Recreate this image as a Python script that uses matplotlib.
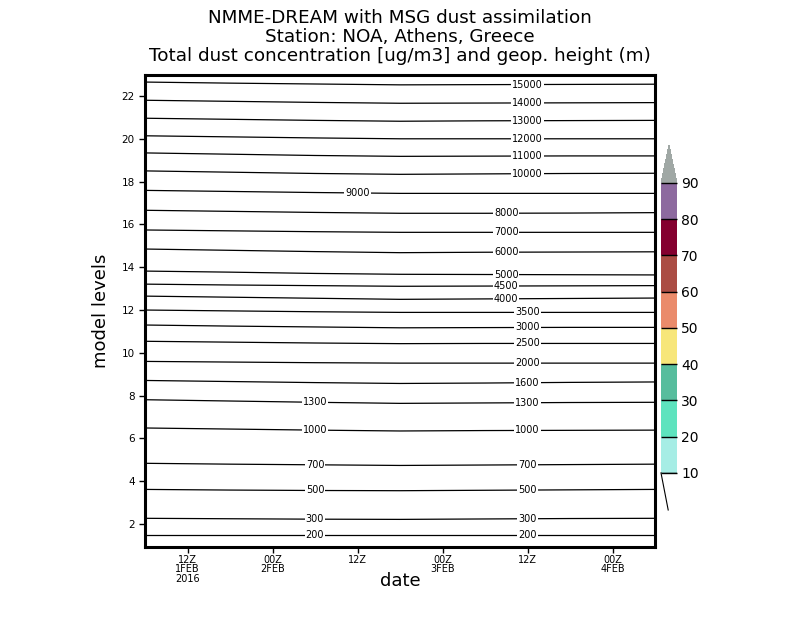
import numpy as np
import matplotlib
matplotlib.use("Agg")
import matplotlib.pyplot as plt
from matplotlib.colors import ListedColormap, BoundaryNorm
from matplotlib.cm import ScalarMappable

# hours since 00Z 1FEB2016
hours = [6, 18, 30, 42, 54, 66, 78]

heights = [15000, 14000, 13000, 12000, 11000, 10000, 9000, 8000, 7000, 6000,
           5000, 4500, 4000, 3500, 3000, 2500, 2000, 1600, 1300, 1000,
           700, 500, 300, 200]

# model level where each geop. height contour sits, at each time in `hours`
level_pos = [
    [22.65, 22.60, 22.56, 22.52, 22.53, 22.54, 22.55],
    [21.80, 21.75, 21.70, 21.66, 21.67, 21.68, 21.69],
    [20.96, 20.91, 20.86, 20.82, 20.84, 20.85, 20.86],
    [20.14, 20.09, 20.04, 20.00, 20.00, 20.00, 20.00],
    [19.34, 19.28, 19.22, 19.18, 19.19, 19.20, 19.20],
    [18.50, 18.44, 18.38, 18.34, 18.36, 18.38, 18.39],
    [17.59, 17.54, 17.49, 17.45, 17.45, 17.45, 17.45],
    [16.66, 16.61, 16.56, 16.52, 16.52, 16.53, 16.55],
    [15.74, 15.70, 15.66, 15.63, 15.63, 15.63, 15.63],
    [14.85, 14.79, 14.73, 14.68, 14.70, 14.71, 14.72],
    [13.82, 13.77, 13.71, 13.67, 13.66, 13.65, 13.64],
    [13.21, 13.17, 13.14, 13.11, 13.12, 13.13, 13.14],
    [12.65, 12.60, 12.55, 12.50, 12.52, 12.54, 12.56],
    [12.00, 11.96, 11.92, 11.89, 11.89, 11.89, 11.89],
    [11.30, 11.25, 11.21, 11.17, 11.18, 11.19, 11.19],
    [10.54, 10.50, 10.46, 10.43, 10.44, 10.44, 10.44],
    [9.60, 9.57, 9.54, 9.52, 9.52, 9.52, 9.52],
    [8.71, 8.66, 8.61, 8.57, 8.59, 8.62, 8.64],
    [7.81, 7.75, 7.69, 7.64, 7.66, 7.68, 7.69],
    [6.49, 6.44, 6.39, 6.35, 6.37, 6.38, 6.39],
    [4.84, 4.80, 4.77, 4.74, 4.76, 4.78, 4.80],
    [3.62, 3.59, 3.57, 3.56, 3.58, 3.60, 3.62],
    [2.27, 2.25, 2.23, 2.22, 2.24, 2.26, 2.27],
    [1.49, 1.49, 1.49, 1.49, 1.49, 1.49, 1.49],
]

# where GrADS put the contour labels (hours)
label_hours = [[60]] * 6 + [[36]] + [[57]] * 6 + [[60]] * 5 + [[30, 60]] * 6

date_ticks = [12, 24, 36, 48, 60, 72]
date_labels = ["12Z\n1FEB\n2016", "00Z\n2FEB", "12Z", "00Z\n3FEB", "12Z", "00Z\n4FEB"]
level_ticks = [2, 4, 6, 8, 10, 12, 14, 16, 18, 20, 22]

dust_levels = [10, 20, 30, 40, 50, 60, 70, 80, 90]
dust_colors = ["#a6ede5", "#5ee3be", "#57bd9d", "#f7e67a", "#ea8b6b",
               "#ab4d44", "#84002f", "#8d6a9f"]
over_color = "#a0a8a5"

fig = plt.figure(figsize=(8, 6.18), dpi=100)
ax = fig.add_axes([145 / 800, 1 - 547 / 618, 510 / 800, 472 / 618])

for h, lv, lh in zip(heights, level_pos, label_hours):
    ax.plot(hours, lv, color="black", lw=0.9)
    for t in lh:
        y = np.interp(t, hours, lv)
        ax.text(t, y, str(h), ha="center", va="center", fontsize=7,
                bbox=dict(facecolor="white", edgecolor="none", pad=0.6))

ax.set_xlim(6, 78)
ax.set_ylim(0.93, 22.98)
ax.set_xticks(date_ticks)
ax.set_xticklabels(date_labels, fontsize=7, linespacing=0.95)
ax.set_yticks(level_ticks)
ax.set_yticklabels([str(v) for v in level_ticks], fontsize=7.5)
ax.tick_params(direction="out", length=4, width=1)
ax.tick_params(axis="x", pad=1.5)
for s in ax.spines.values():
    s.set_linewidth(2.2)
ax.set_xlabel("date", fontsize=13)
ax.xaxis.set_label_coords(0.5, -0.052)
ax.set_ylabel("model levels", fontsize=13, labelpad=8)

fig.text(0.5, 1 - 18 / 618, "NMME-DREAM with MSG dust assimilation",
         ha="center", va="center", fontsize=13.2)
fig.text(0.5, 1 - 37 / 618, "Station: NOA, Athens, Greece",
         ha="center", va="center", fontsize=13.2)
fig.text(0.5, 1 - 56 / 618, "Total dust concentration [ug/m3] and geop. height (m)",
         ha="center", va="center", fontsize=13.2)

# colorbar
cmap = ListedColormap(dust_colors)
cmap.set_over(over_color)
cmap.set_under("white")
norm = BoundaryNorm(dust_levels, cmap.N)
cax = fig.add_axes([661 / 800, 1 - 510 / 618, 16 / 800, 365 / 618])
cb = fig.colorbar(ScalarMappable(norm=norm, cmap=cmap), cax=cax,
                  extend="both", extendfrac=[0.128, 0.131], drawedges=True)
cb.outline.set_visible(False)
cb.dividers.set_linewidth(1)
cax.axhline(10, color="black", lw=1)
cax.plot([0, 0.45], [0, -0.128], color="black", lw=0.8,
         transform=cax.transAxes, clip_on=False)
cb.set_ticks(dust_levels)
cb.ax.tick_params(which="both", length=0, labelsize=10, pad=3)
cb.ax.minorticks_off()

fig.savefig("out.png", dpi=100)
